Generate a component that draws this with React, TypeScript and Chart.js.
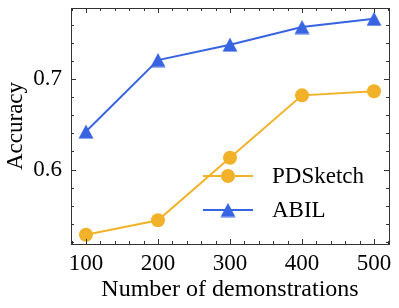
import React, { useEffect, useRef } from "react";
import { Chart, registerables } from "chart.js";

Chart.register(...registerables);

const demos = [100, 200, 300, 400, 500];
const pdsketch = [0.528, 0.544, 0.613, 0.682, 0.6865];
const abil = [0.642, 0.721, 0.738, 0.7575, 0.7665];
const xTicks = [100, 200, 300, 400, 500];
const yTicks = [0.6, 0.7];
const xMinor = [80, 120, 140, 160, 180, 220, 240, 260, 280, 320, 340, 360, 380, 420, 440, 460, 480, 520];
const yMinor = [0.52, 0.54, 0.56, 0.58, 0.62, 0.64, 0.66, 0.68, 0.72, 0.74, 0.76];

const ORANGE = "#f1b229";
const BLUE = "#3864e2";
const FONT = "'Liberation Serif', 'Times New Roman', serif";
const FS = 23;

function makeTriangle(color: string) {
  const c = document.createElement("canvas");
  c.width = 16;
  c.height = 15;
  const ctx = c.getContext("2d")!;
  ctx.fillStyle = color;
  ctx.beginPath();
  ctx.moveTo(8, 0.5);
  ctx.lineTo(15.5, 14.5);
  ctx.lineTo(0.5, 14.5);
  ctx.closePath();
  ctx.fill();
  return c;
}

const framePlugin = {
  id: "frameTicks",
  afterDraw(chart: any) {
    const { ctx, chartArea: a, scales } = chart;
    const xs = scales.x;
    const ys = scales.y;
    ctx.save();
    ctx.strokeStyle = "#333333";
    ctx.lineWidth = 1;
    const tick = (x1: number, y1: number, x2: number, y2: number) => {
      ctx.beginPath();
      ctx.moveTo(x1, y1);
      ctx.lineTo(x2, y2);
      ctx.stroke();
    };
    xTicks.forEach((v) => {
      const x = Math.round(xs.getPixelForValue(v)) + 0.5;
      tick(x, a.bottom, x, a.bottom - 5);
      tick(x, a.top, x, a.top + 5);
    });
    xMinor.forEach((v) => {
      const x = Math.round(xs.getPixelForValue(v)) + 0.5;
      tick(x, a.bottom, x, a.bottom - 3);
      tick(x, a.top, x, a.top + 3);
    });
    yTicks.forEach((v) => {
      const y = Math.round(ys.getPixelForValue(v)) + 0.5;
      tick(a.left, y, a.left + 5, y);
      tick(a.right, y, a.right - 5, y);
    });
    yMinor.forEach((v) => {
      const y = Math.round(ys.getPixelForValue(v)) + 0.5;
      tick(a.left, y, a.left + 3, y);
      tick(a.right, y, a.right - 3, y);
    });
    ctx.strokeRect(Math.round(a.left) + 0.5, Math.round(a.top) + 0.5, Math.round(a.right - a.left), Math.round(a.bottom - a.top));

    // legend
    const items = chart.data.datasets.map((d: any) => d);
    const lx1 = a.right - 186;
    const lx2 = a.right - 136;
    const mx = (lx1 + lx2) / 2;
    const rows = [a.bottom - 68, a.bottom - 34];
    ctx.font = `${FS}px ${FONT}`;
    ctx.textBaseline = "middle";
    ctx.textAlign = "left";
    items.forEach((d: any, i: number) => {
      const y = rows[i];
      ctx.strokeStyle = d.borderColor;
      ctx.lineWidth = 2;
      tick(lx1, y, lx2, y);
      if (d.pointStyle === "circle") {
        ctx.fillStyle = d.pointBackgroundColor;
        ctx.beginPath();
        ctx.arc(mx, y, d.pointRadius, 0, Math.PI * 2);
        ctx.fill();
      } else {
        const img = d.pointStyle as HTMLCanvasElement;
        ctx.drawImage(img, mx - img.width / 2, y - img.height / 2);
      }
      ctx.fillStyle = "#000000";
      ctx.fillText(d.label, a.right - 117, y + 1);
    });
    ctx.restore();
  },
};

export default function App() {
  const ref = useRef<HTMLCanvasElement>(null);
  useEffect(() => {
    document.body.style.margin = "0";
    const tri = makeTriangle(BLUE);
    const chart = new Chart(ref.current!, {
      type: "line",
      data: {
        datasets: [
          {
            label: "PDSketch",
            data: demos.map((x, i) => ({ x, y: pdsketch[i] })),
            borderColor: ORANGE,
            backgroundColor: ORANGE,
            pointBackgroundColor: ORANGE,
            pointBorderWidth: 0,
            pointStyle: "circle",
            pointRadius: 7,
            borderWidth: 2,
          },
          {
            label: "ABIL",
            data: demos.map((x, i) => ({ x, y: abil[i] })),
            borderColor: BLUE,
            backgroundColor: BLUE,
            pointBackgroundColor: BLUE,
            pointBorderWidth: 0,
            pointStyle: tri as any,
            pointRadius: 8,
            borderWidth: 2,
          },
        ],
      },
      options: {
        animation: false,
        responsive: false,
        devicePixelRatio: 1,
        layout: { padding: { top: 6, right: 10, left: 0, bottom: 0 } },
        plugins: { legend: { display: false }, tooltip: { enabled: false } },
        font: { family: FONT },
        scales: {
          x: {
            type: "linear",
            min: 79.2,
            max: 520.8,
            grid: { display: false, drawTicks: false },
            border: { display: false },
            afterBuildTicks: (s: any) => {
              s.ticks = xTicks.map((v) => ({ value: v }));
            },
            afterFit: (s: any) => {
              s.height = 64;
              s.paddingLeft = 0;
              s.paddingRight = 0;
            },
            ticks: { color: "#000", padding: 6, font: { family: FONT, size: FS } },
            title: {
              display: true,
              text: "Number of demonstrations",
              color: "#000",
              font: { family: FONT, size: 24 },
              padding: { top: 0, bottom: 4 },
            },
          },
          y: {
            type: "linear",
            min: 0.5178,
            max: 0.7785,
            grid: { display: false, drawTicks: false },
            border: { display: false },
            afterBuildTicks: (s: any) => {
              s.ticks = yTicks.map((v) => ({ value: v }));
            },
            afterFit: (s: any) => {
              s.width = 71;
              s.paddingTop = 0;
              s.paddingBottom = 0;
            },
            ticks: {
              color: "#000",
              padding: 9,
              font: { family: FONT, size: FS },
              callback: (v: any) => Number(v).toFixed(1),
            },
            title: {
              display: true,
              text: "Accuracy",
              color: "#000",
              font: { family: FONT, size: FS },
              padding: { top: 2, bottom: 0 },
            },
          },
        },
      },
      plugins: [framePlugin],
    } as any);
    return () => chart.destroy();
  }, []);
  return (
    <div style={{ position: "absolute", left: 0, top: 0, width: 399, height: 308 }}>
      <canvas ref={ref} width={399} height={308} style={{ width: 399, height: 308, display: "block" }} />
    </div>
  );
}
